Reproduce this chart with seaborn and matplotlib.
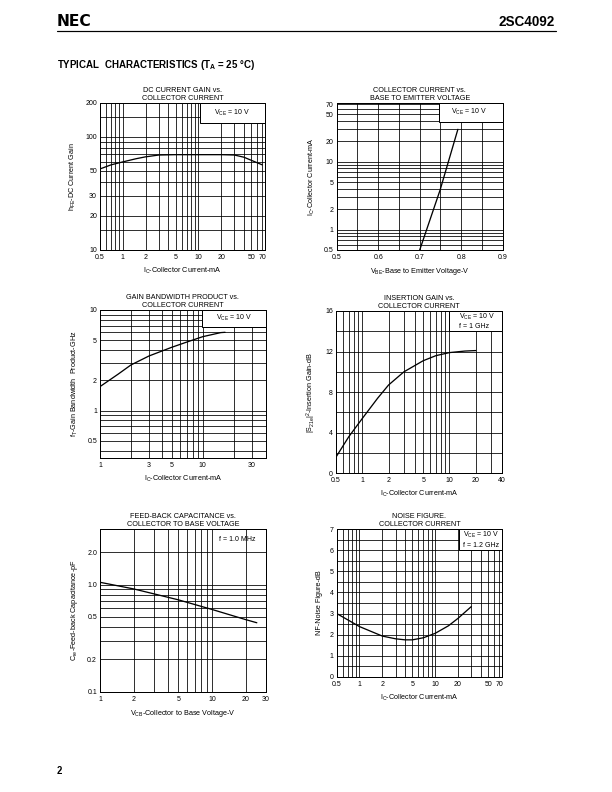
import matplotlib
matplotlib.use("Agg")
import matplotlib.pyplot as plt
from matplotlib.patches import Rectangle
from matplotlib.ticker import FixedLocator, FixedFormatter, NullLocator
import seaborn as sns

# --- DATA ---
# DC current gain vs collector current (VCE = 10 V)
hfe_ic = [0.5, 0.7, 1, 1.5, 2, 3, 5, 10, 20, 30, 40, 50, 70]
hfe = [52, 56.5, 60, 64, 66.5, 69, 69.5, 69.5, 69.5, 69, 66, 62, 56.5]

# Collector current vs base-emitter voltage (VCE = 10 V)
vbe = [0.700, 0.749, 0.792]
ic_vbe = [0.5, 3.8, 30]

# Gain bandwidth product vs collector current (VCE = 10 V)
ft_ic = [1, 1.5, 2, 3, 5, 7, 10, 15, 16.5]
ft = [1.73, 2.3, 2.84, 3.49, 4.26, 4.8, 5.43, 5.96, 6.0]

# Insertion gain vs collector current (VCE = 10 V, f = 1 GHz)
s21_ic = [0.5, 0.7, 1, 1.5, 2, 3, 5, 7, 10, 15, 20]
s21 = [1.6, 3.6, 5.4, 7.4, 8.7, 10.0, 11.1, 11.6, 11.9, 12.05, 12.1]

# Feed-back capacitance vs collector to base voltage (f = 1.0 MHz)
vcb = [1, 2, 5, 10, 20, 25]
cre = [1.05, 0.91, 0.72, 0.585, 0.47, 0.44]

# Noise figure vs collector current (VCE = 10 V, f = 1.2 GHz)
nf_ic = [0.5, 0.7, 1, 2, 3, 4, 5, 7, 10, 15, 20, 30]
nf = [3.0, 2.7, 2.38, 1.93, 1.8, 1.75, 1.75, 1.85, 2.06, 2.42, 2.77, 3.33]

# --- STYLE ---
sns.set_theme(style="white", rc={
    "axes.edgecolor": "black",
    "axes.linewidth": 1.0,
    "grid.color": "black",
    "grid.linewidth": 0.8,
    "xtick.major.size": 0,
    "ytick.major.size": 0,
    "xtick.major.pad": 4,
    "ytick.major.pad": 3,
    "text.color": "black",
    "axes.labelcolor": "black",
    "xtick.color": "black",
    "ytick.color": "black",
})
plt.rcParams["font.family"] = ["Liberation Sans", "DejaVu Sans"]

TICK_FS = 7
LABEL_FS = 7.3
TITLE_FS = 7.3

W, H = 612, 792
fig = plt.figure(figsize=(W / 72, H / 72), dpi=72)


def add_ax(left, top, right, bottom):
    return fig.add_axes([left / W, 1 - bottom / H, (right - left) / W, (bottom - top) / H])


def setup_axis(axis, grid, labels, fmt="{:g}"):
    locs = sorted(set(grid) | set(labels))
    axis.set_major_locator(FixedLocator(locs))
    axis.set_major_formatter(FixedFormatter([fmt.format(v) if v in labels else "" for v in locs]))
    axis.set_minor_locator(NullLocator())


def legend_box(ax, x0, y0, lines, tx, ty, ha="center", box=True):
    if box:
        ax.add_patch(Rectangle((x0, y0), 1 - x0, 1 - y0, transform=ax.transAxes,
                               facecolor="white", edgecolor="black", lw=1.0,
                               zorder=3, clip_on=False))
    ax.text(tx, ty, "\n".join(lines), transform=ax.transAxes, ha=ha, va="center",
            fontsize=TICK_FS, zorder=4, linespacing=1.3)


def panel(ax, x, y, title, xlabel, ylabel, xlim, ylim, xlog, ylog,
          xgrid, xticks, ygrid, yticks, yfmt="{:g}"):
    if xlog:
        ax.set_xscale("log")
    if ylog:
        ax.set_yscale("log")
    sns.lineplot(x=x, y=y, ax=ax, color="black", lw=1.3, zorder=2, sort=False)
    ax.set_xlim(*xlim)
    ax.set_ylim(*ylim)
    setup_axis(ax.xaxis, xgrid, xticks)
    setup_axis(ax.yaxis, ygrid, yticks, yfmt)
    ax.grid(True, which="major")
    ax.tick_params(labelsize=TICK_FS)
    ax.set_title(title, fontsize=TITLE_FS, pad=3, linespacing=1.2)
    ax.set_xlabel(xlabel, fontsize=LABEL_FS, labelpad=5)
    ax.set_ylabel(ylabel, fontsize=LABEL_FS, labelpad=7)


sub = lambda s: r"$\mathregular{_{%s}}$" % s
VCE = "V" + sub("CE") + " = 10 V"
IC_LABEL = "I" + sub("C") + "-Collector Current-mA"
dec_lo = [0.6, 0.7, 0.8, 0.9]
dec_1 = [1, 2, 3, 4, 5, 6, 7, 8, 9]
dec_10 = [10, 20, 30, 40, 50, 60, 70]

# 1. DC current gain
ax1 = add_ax(100, 102.7, 265, 250)
panel(ax1, hfe_ic, hfe, "DC CURRENT GAIN vs.\nCOLLECTOR CURRENT", IC_LABEL,
      "h" + sub("FE") + "-DC Current Gain", (0.5, 76), (10, 200), True, True,
      dec_lo + dec_1 + dec_10, [0.5, 1, 2, 5, 10, 20, 50, 70],
      [15, 20, 30, 40, 50, 60, 70, 80, 90, 100, 150], [10, 20, 30, 50, 100, 200])
legend_box(ax1, 0.606, 0.86, [VCE], 0.80, 0.93)

# 2. Collector current vs VBE
ax2 = add_ax(336.7, 102.7, 502.7, 250)
panel(ax2, vbe, ic_vbe, "COLLECTOR CURRENT vs.\nBASE TO EMITTER VOLTAGE",
      "V" + sub("BE") + "-Base to Emitter Voltage-V",
      "I" + sub("C") + "-Collector Current-mA", (0.5, 0.9), (0.5, 74), False, True,
      [0.55, 0.6, 0.65, 0.7, 0.75, 0.8, 0.85], [0.5, 0.6, 0.7, 0.8, 0.9],
      dec_lo + dec_1 + [10, 20, 30, 40, 50, 60], [0.5, 1, 2, 5, 10, 20, 50, 70])
legend_box(ax2, 0.618, 0.871, [VCE], 0.80, 0.935)

# 3. Gain bandwidth product
ax3 = add_ax(100, 310, 265.7, 458.3)
panel(ax3, ft_ic, ft, "GAIN BANDWIDTH PRODUCT vs.\nCOLLECTOR CURRENT", IC_LABEL,
      "f" + sub("T") + "-Gain Bandwidth  Product-GHz", (1, 41), (0.335, 10), True, True,
      dec_1 + [10, 20, 30], [1, 3, 5, 10, 30],
      [0.4, 0.5, 0.6, 0.7, 0.8, 0.9] + dec_1 + [10], [0.5, 1, 2, 5, 10])
legend_box(ax3, 0.614, 0.888, [VCE], 0.81, 0.944)

# 4. Insertion gain
ax4 = add_ax(336, 311, 502, 473.3)
panel(ax4, s21_ic, s21, "INSERTION GAIN vs.\nCOLLECTOR CURRENT", IC_LABEL,
      "|S" + sub("21e") + "|" + r"$\mathregular{^2}$" + "-Insertion Gain-dB",
      (0.5, 40), (0, 16), True, False,
      dec_lo + dec_1 + [10, 20, 30, 40], [0.5, 1, 2, 5, 10, 20, 40],
      [2, 4, 6, 8, 10, 12, 14, 16], [0, 4, 8, 12, 16])
legend_box(ax4, 0.683, 0.877, [VCE, "f = 1 GHz"], 0.74, 0.94, ha="left")

# 5. Feed-back capacitance
ax5 = add_ax(100, 529, 265.7, 691.7)
panel(ax5, vcb, cre, "FEED-BACK CAPACITANCE vs.\nCOLLECTOR TO BASE VOLTAGE",
      "V" + sub("CB") + "-Collector to Base Voltage-V",
      "C" + sub("re") + "-Feed-back Capacitance-pF", (1, 30), (0.1, 3.3), True, True,
      [2, 3, 4, 5, 6, 7, 8, 9, 10, 20, 30], [1, 2, 5, 10, 20, 30],
      [0.2, 0.3, 0.4, 0.5, 0.6, 0.7, 0.8, 0.9, 1.0, 2.0], [0.1, 0.2, 0.5, 1.0, 2.0],
      yfmt="{:.1f}")
legend_box(ax5, 0.7, 0.9, ["f = 1.0 MHz"], 0.83, 0.935, box=False)

# 6. Noise figure
ax6 = add_ax(336.7, 529.3, 502.3, 676.7)
panel(ax6, nf_ic, nf, "NOISE FIGURE.\nCOLLECTOR CURRENT", IC_LABEL,
      "NF-Noise Figure-dB", (0.5, 77), (0, 7), True, False,
      dec_lo + dec_1 + [10, 20, 30, 40, 50, 60],
      [0.5, 1, 2, 5, 10, 20, 50, 70],
      [0.5, 1, 1.5, 2, 2.5, 3, 3.5, 4, 4.5, 5, 5.5, 6, 6.5, 7], [0, 1, 2, 3, 4, 5, 6, 7])
legend_box(ax6, 0.74, 0.86, [VCE, "f = 1.2 GHz"], 0.765, 0.93, ha="left")

# --- PAGE HEADER / FOOTER ---
fig.text(57 / W, 1 - 21.5 / H, "NEC", fontsize=15.5, fontweight="bold",
         family=["DejaVu Sans"], va="center", ha="left")
fig.text(555 / W, 1 - 21.5 / H, "2SC4092", fontsize=13.5, fontweight="bold",
         va="center", ha="right")
fig.add_artist(plt.Line2D([57 / W, 556 / W], [1 - 31 / H, 1 - 31 / H],
                          color="black", lw=1.2))
fig.text(57 / W, 1 - 65 / H, "TYPICAL  CHARACTERISTICS (T" + sub("A") + " = 25 °C)",
         fontsize=9.8, fontweight="bold", va="center", ha="left")
fig.text(57 / W, 1 - 771 / H, "2", fontsize=9.5, fontweight="bold",
         va="center", ha="left")

fig.savefig("out.png", dpi=72)
